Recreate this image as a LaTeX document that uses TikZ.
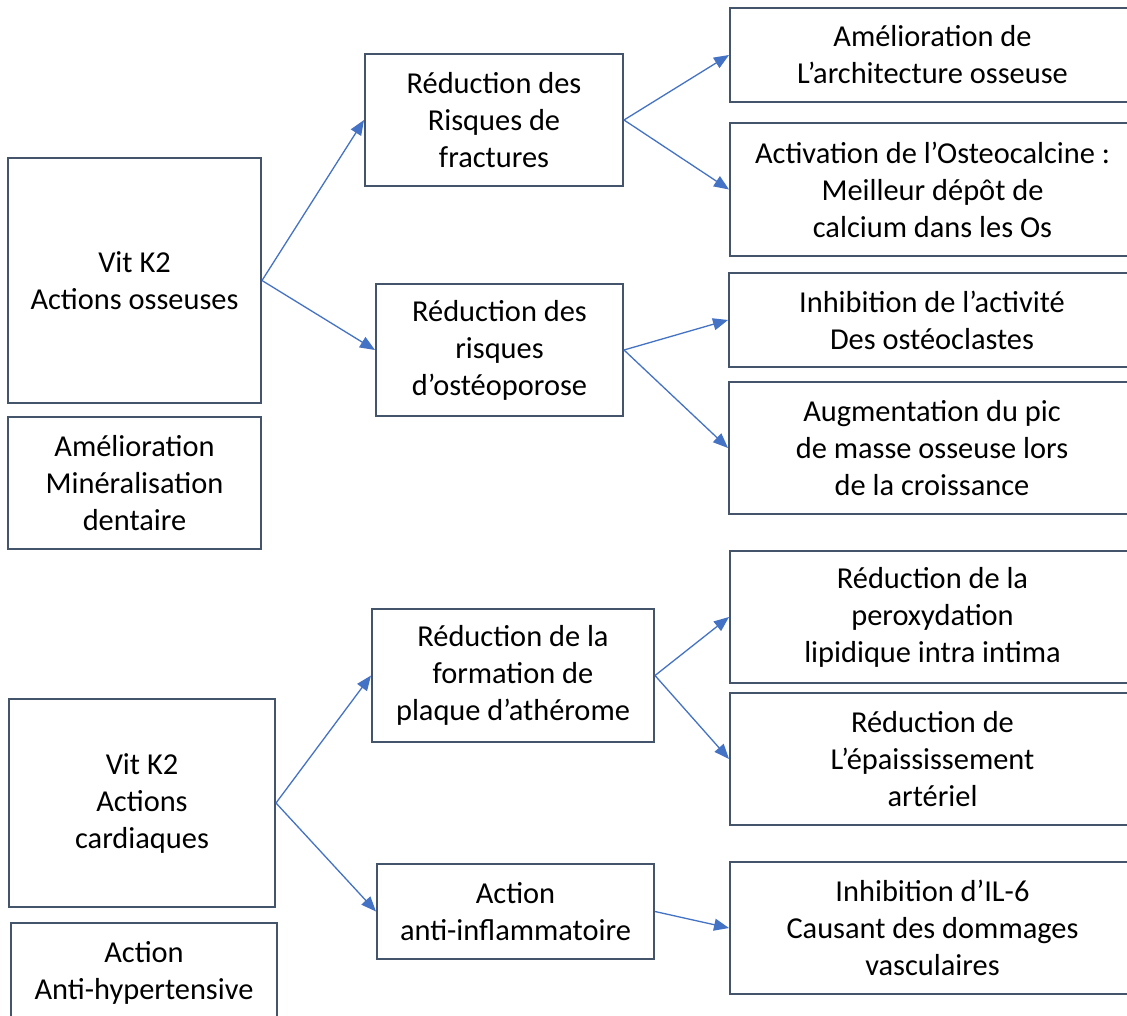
\documentclass[tikz,border=0pt]{standalone}
\usepackage{fontspec}
\setmainfont{Carlito}
\usetikzlibrary{arrows.meta}
\definecolor{boxline}{HTML}{44546A}
\definecolor{arrowblue}{HTML}{4472C4}
\begin{document}
\begin{tikzpicture}[x=1pt,y=-1pt,
  box/.style={draw=boxline, line width=2pt, rectangle, inner sep=0pt, align=center,
    font=\fontsize{30.4}{37}\selectfont},
  conn/.style={draw=arrowblue, line width=1.3pt, -{Triangle[length=15pt,width=12pt]}}]
\clip (0,0) rectangle (1127,1015);
\fill[white] (0,0) rectangle (1127,1015);
% top half
\node[box, minimum width=253pt, minimum height=245pt] (A) at (134.5,280.5) {Vit K2\\Actions osseuses};
\node[box, minimum width=253pt, minimum height=132pt] (A2) at (134.5,483) {Amélioration\\Minéralisation\\dentaire};
\node[box, minimum width=258pt, minimum height=132pt] (B) at (494,120) {Réduction des\\Risques de\\fractures};
\node[box, minimum width=247pt, minimum height=132pt] (C) at (499.5,350) {Réduction des\\risques\\d’ostéoporose};
\node[box, minimum width=405pt, minimum height=94pt] (D) at (932.5,55) {Amélioration de\\L’architecture osseuse};
\node[box, minimum width=405pt, minimum height=133pt] (E) at (932.5,189.5) {Activation de l’Osteocalcine :\\Meilleur dépôt de\\calcium dans les Os};
\node[box, minimum width=406pt, minimum height=94pt] (F) at (932,320) {Inhibition de l’activité\\Des ostéoclastes};
\node[box, minimum width=406pt, minimum height=132pt] (G) at (932,448) {Augmentation du pic\\de masse osseuse lors\\de la croissance};
% bottom half
\node[box, minimum width=266pt, minimum height=208pt] (H) at (142,803) {Vit K2\\Actions\\cardiaques};
\node[box, minimum width=266pt, minimum height=99pt] (H2) at (144,972.5) {Action\\Anti-hypertensive};
\node[box, minimum width=282pt, minimum height=133pt] (I) at (513,675.5) {Réduction de la\\formation de\\plaque d’athérome};
\node[box, minimum width=277pt, minimum height=95pt] (J) at (515.5,911.5) {Action\\anti-inflammatoire};
\node[box, minimum width=405pt, minimum height=132pt] (K) at (932.5,617) {Réduction de la\\peroxydation\\lipidique intra intima};
\node[box, minimum width=405pt, minimum height=132pt] (L) at (932.5,759) {Réduction de\\L’épaississement\\artériel};
\node[box, minimum width=405pt, minimum height=132pt] (M) at (932.5,928) {Inhibition d’IL-6\\Causant des dommages\\vasculaires};
% connectors
\draw[conn] (A.east) -- (B.west);
\draw[conn] (A.east) -- (C.west);
\draw[conn] (B.east) -- (D.west);
\draw[conn] (B.east) -- (E.west);
\draw[conn] (C.east) -- (F.west);
\draw[conn] (C.east) -- (G.west);
\draw[conn] (H.east) -- (I.west);
\draw[conn] (H.east) -- (J.west);
\draw[conn] (I.east) -- (K.west);
\draw[conn] (I.east) -- (L.west);
\draw[conn] (J.east) -- (M.west);
\end{tikzpicture}
\end{document}
